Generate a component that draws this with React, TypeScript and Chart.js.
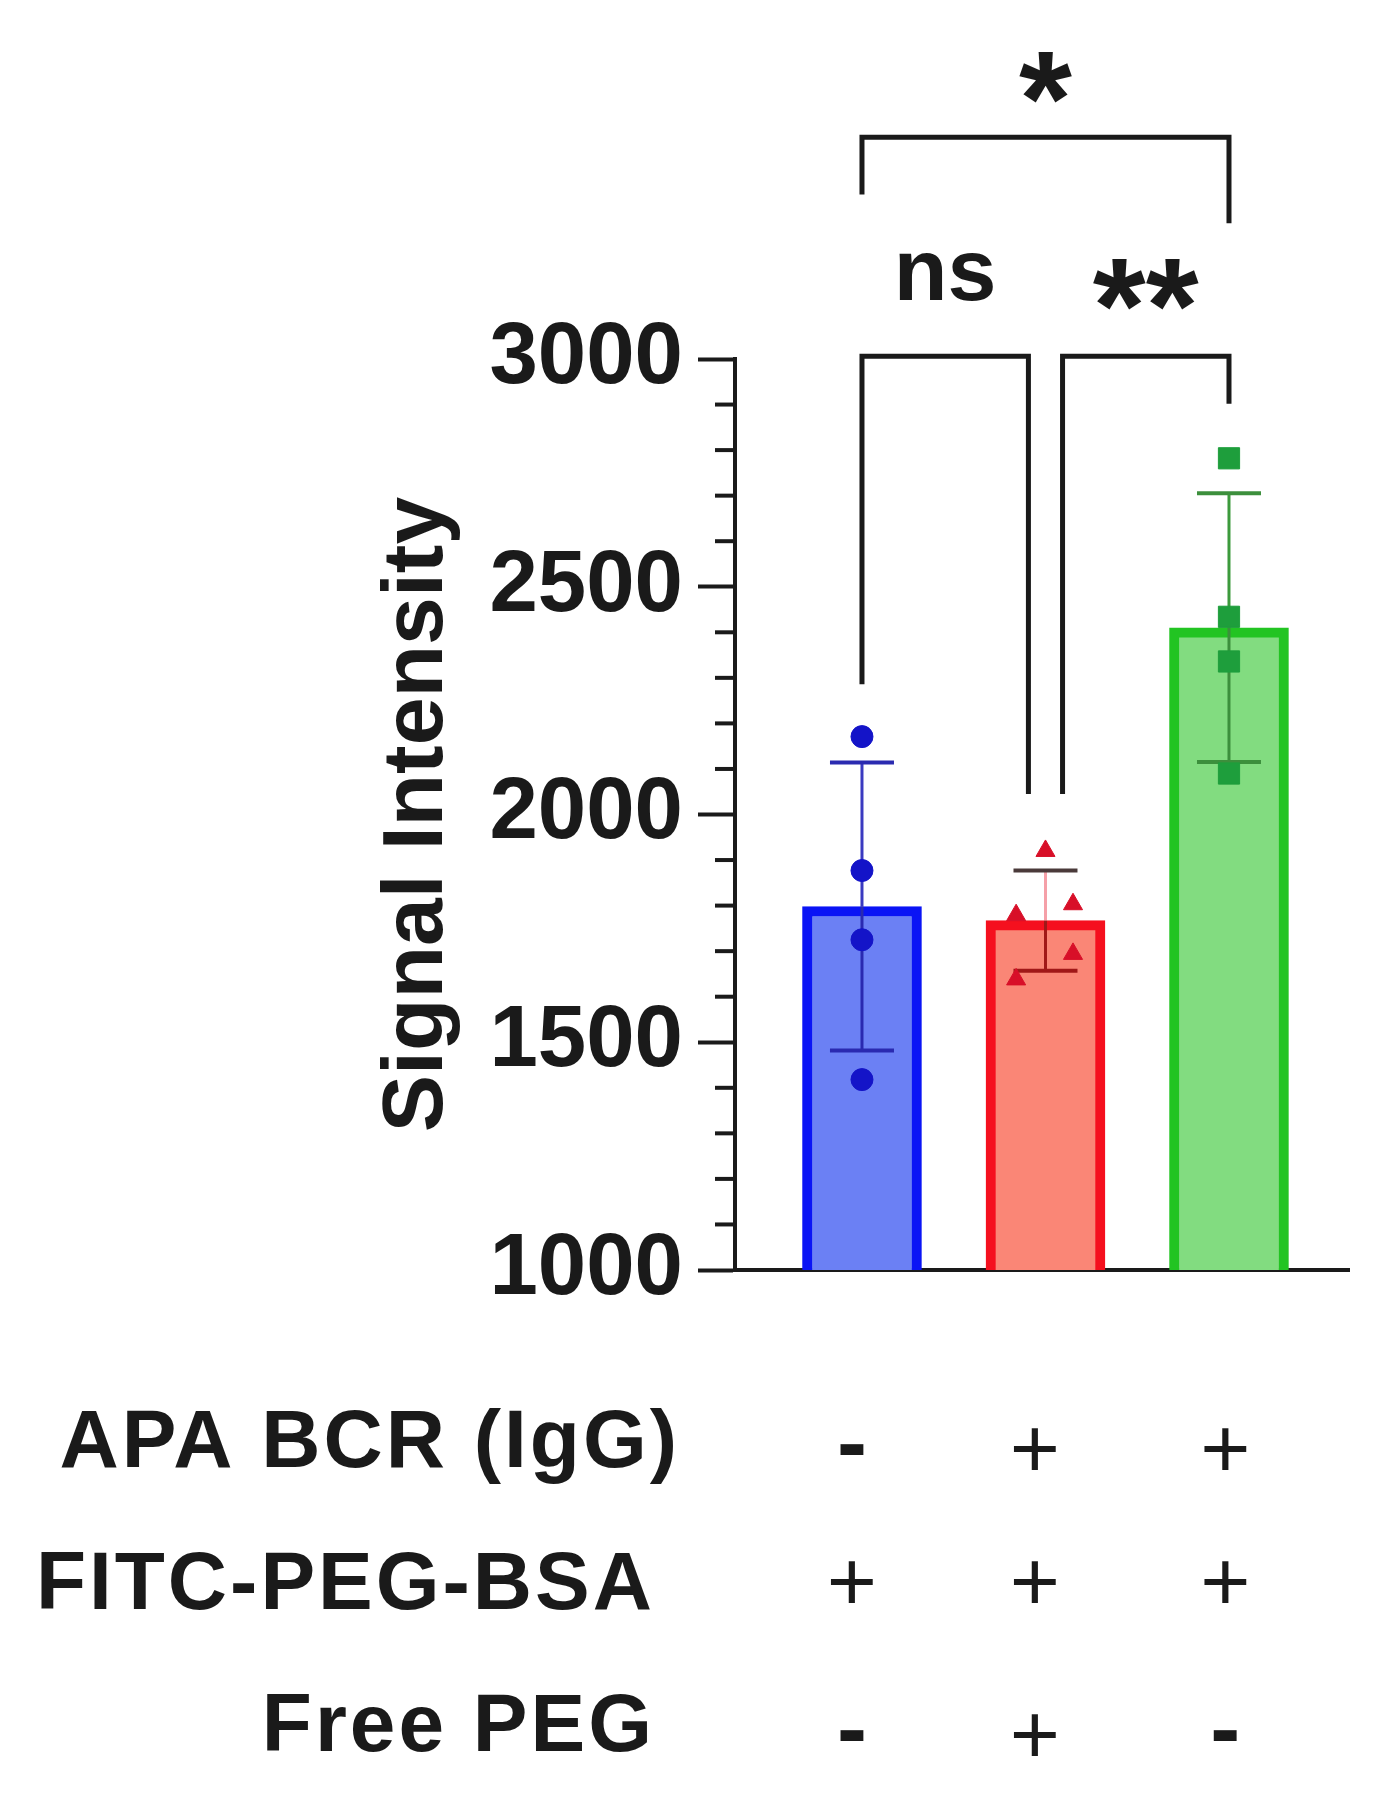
import React, { useEffect, useRef } from 'react';
import { Chart, registerables } from 'chart.js';

Chart.register(...registerables);

// ---------- data ----------
const groups = ['APA-, FITC-PEG-BSA+, Free PEG-', 'APA+, FITC-PEG-BSA+, Free PEG+', 'APA+, FITC-PEG-BSA+, Free PEG-'];
const barMeans = [1798, 1767, 2410];
const barSD = [316, 110, 295];
const bluePoints = [2171, 1877, 1725, 1418];
const redPoints = [1920, 1803, 1694, 1779, 1638];
const redJitter = [0, 0.15, 0.15, -0.16, -0.16];
const greenPoints = [2782, 2434, 2336, 2090];
const yTicks = [1000, 1500, 2000, 2500, 3000];
const yTitle = 'Signal Intensity';
const rowLabels = ['APA BCR (IgG)', 'FITC-PEG-BSA', 'Free PEG'];
const rowSigns = [
  ['-', '+', '+'],
  ['+', '+', '+'],
  ['-', '+', '-'],
];
// significance brackets: group indices, bracket level and leg ends (data units)
const compFrom = [0, 0, 1];
const compTo = [2, 1, 2];
const compLevel = [3487, 3006, 3006];
const compLeftEnd = [3361, 2286, 2045];
const compRightEnd = [3298, 2045, 2902];
const compLabel = ['*', 'ns', '**'];

// ---------- style ----------
const FONT = '"Liberation Sans", Arial, Helvetica, sans-serif';
const INK = '#1a1a1a';
const barFill = ['#6b80f4', '#fa8676', '#82dc80'];
const barEdge = ['#0a14f5', '#f5101e', '#22c422'];
const errTopColor = ['#2a2ab0', '#4a3a3a', '#3c8f3c'];
const errStemColor = ['#3a3ac0', '#f5a0a8', '#3c9a3c'];
const errLowColor = ['#2a2ab0', '#a01818', '#3c8f3c'];
const ptColor = ['#1414c8', '#d80f28', '#1e9e3c'];
const legShift = [[0, 0], [0, -0.093], [0.093, 0]];
const labelGap = [34, 55, 46];
const labelSize = [136, 88, 136];
const rowLabelRight = [680, 655, 655];
const rowBaseline = [1467, 1609, 1751];
const rowSignCenter = [1449, 1582, 1735];
const signShift = [-0.055, -0.058, -0.02];

function baselineForCenter(ctx: CanvasRenderingContext2D, text: string, yc: number) {
  const m = ctx.measureText(text);
  return yc + (m.actualBoundingBoxAscent - m.actualBoundingBoxDescent) / 2;
}

const annotPlugin = {
  id: 'annot',
  afterDatasetDraw(chart: any, args: any) {
    if (args.index !== 0) return;
    const { ctx } = chart;
    const xs = chart.scales.x;
    const ys = chart.scales.y;
    ctx.save();
    barMeans.forEach((m, i) => {
      const x = xs.getPixelForValue(i);
      const yTop = ys.getPixelForValue(m + barSD[i]);
      const yBot = ys.getPixelForValue(m - barSD[i]);
      const yMean = ys.getPixelForValue(m);
      ctx.lineWidth = 3;
      ctx.strokeStyle = errStemColor[i];
      ctx.beginPath();
      ctx.moveTo(x, yTop);
      ctx.lineTo(x, yMean);
      ctx.stroke();
      ctx.strokeStyle = errLowColor[i];
      ctx.beginPath();
      ctx.moveTo(x, yMean);
      ctx.lineTo(x, yBot);
      ctx.stroke();
      ctx.lineWidth = 4;
      ctx.strokeStyle = errTopColor[i];
      ctx.beginPath();
      ctx.moveTo(x - 32, yTop);
      ctx.lineTo(x + 32, yTop);
      ctx.stroke();
      ctx.strokeStyle = errLowColor[i];
      ctx.beginPath();
      ctx.moveTo(x - 32, yBot);
      ctx.lineTo(x + 32, yBot);
      ctx.stroke();
    });
    ctx.restore();
  },
  afterDraw(chart: any) {
    const { ctx } = chart;
    const xs = chart.scales.x;
    const ys = chart.scales.y;
    ctx.save();
    // minor ticks
    ctx.strokeStyle = INK;
    ctx.lineWidth = 4;
    ys.ticks.forEach((t: any) => {
      if (yTicks.includes(t.value)) return;
      const y = ys.getPixelForValue(t.value);
      ctx.beginPath();
      ctx.moveTo(ys.right - 20, y);
      ctx.lineTo(ys.right, y);
      ctx.stroke();
    });
    // brackets
    ctx.lineWidth = 5;
    ctx.lineJoin = 'miter';
    ctx.lineCap = 'butt';
    compLabel.forEach((lab, k) => {
      const x1 = xs.getPixelForValue(compFrom[k] + legShift[k][0]);
      const x2 = xs.getPixelForValue(compTo[k] + legShift[k][1]);
      const yl = ys.getPixelForValue(compLevel[k]);
      ctx.beginPath();
      ctx.moveTo(x1, ys.getPixelForValue(compLeftEnd[k]));
      ctx.lineTo(x1, yl);
      ctx.lineTo(x2, yl);
      ctx.lineTo(x2, ys.getPixelForValue(compRightEnd[k]));
      ctx.stroke();
      ctx.font = `bold ${labelSize[k]}px ${FONT}`;
      ctx.fillStyle = INK;
      ctx.textAlign = 'center';
      const m = ctx.measureText(lab);
      const bottom = yl - labelGap[k];
      ctx.fillText(lab, (x1 + x2) / 2, bottom - m.actualBoundingBoxDescent);
    });
    // condition table
    ctx.fillStyle = INK;
    rowLabels.forEach((lab, r) => {
      ctx.font = `bold 82px ${FONT}`;
      ctx.textAlign = 'right';
      (ctx as any).letterSpacing = '3px';
      ctx.fillText(lab, rowLabelRight[r], rowBaseline[r]);
      (ctx as any).letterSpacing = '0px';
      ctx.textAlign = 'center';
      rowSigns[r].forEach((s, i) => {
        const x = xs.getPixelForValue(i + signShift[i]);
        if (s === '+') {
          ctx.font = `86px ${FONT}`;
        } else {
          ctx.font = `bold 90px ${FONT}`;
        }
        const base = baselineForCenter(ctx, s, rowSignCenter[r]);
        ctx.fillText(s, x, base);
      });
    });
    ctx.restore();
  },
};

export default function App() {
  const ref = useRef<HTMLCanvasElement | null>(null);
  useEffect(() => {
    if (!ref.current) return;
    const chart = new Chart(ref.current, {
      type: 'bar',
      data: {
        datasets: [
          {
            type: 'bar',
            label: 'Mean',
            data: groups.map((_, i) => ({ x: i, y: barMeans[i] })) as any,
            backgroundColor: barFill,
            borderColor: barEdge,
            borderWidth: 10,
            barThickness: 119,
            order: 3,
          } as any,
          {
            type: 'scatter',
            label: groups[0],
            data: bluePoints.map((v) => ({ x: 0, y: v })),
            pointStyle: 'circle',
            radius: 11,
            backgroundColor: ptColor[0],
            borderColor: ptColor[0],
            borderWidth: 1,
            order: 0,
          } as any,
          {
            type: 'scatter',
            label: groups[1],
            data: redPoints.map((v, k) => ({ x: 1 + redJitter[k], y: v })),
            pointStyle: 'triangle',
            radius: 11,
            backgroundColor: ptColor[1],
            borderColor: ptColor[1],
            borderWidth: 1,
            order: 0,
          } as any,
          {
            type: 'scatter',
            label: groups[2],
            data: greenPoints.map((v) => ({ x: 2, y: v })),
            pointStyle: 'rect',
            radius: 15,
            backgroundColor: ptColor[2],
            borderColor: ptColor[2],
            borderWidth: 1,
            order: 0,
          } as any,
        ],
      },
      options: {
        responsive: false,
        animation: false,
        events: [],
        plugins: { legend: { display: false }, tooltip: { enabled: false } },
        layout: { padding: { left: 350, top: 359, right: 38, bottom: 522 } },
        scales: {
          x: {
            type: 'linear',
            min: -0.692,
            max: 2.654,
            offset: false,
            ticks: { display: false },
            grid: { display: false },
            border: { display: true, color: INK, width: 4 },
          },
          y: {
            type: 'linear',
            min: 1000,
            max: 3000,
            ticks: {
              stepSize: 100,
              autoSkip: false,
              padding: 15,
              color: INK,
              font: { family: FONT, size: 87, weight: 'bold' },
              callback: (v: any) => (yTicks.includes(Number(v)) ? String(v) : ''),
            },
            grid: {
              drawOnChartArea: false,
              drawTicks: true,
              tickLength: 37,
              tickWidth: 4,
              tickColor: (c: any) => (yTicks.includes(c.tick?.value) ? INK : 'rgba(0,0,0,0)'),
            },
            border: { display: true, color: INK, width: 4 },
            title: {
              display: true,
              text: yTitle,
              color: INK,
              font: { family: FONT, size: 86, weight: 'bold' },
              padding: { top: 17, bottom: 0 },
            },
            afterFit: (s: any) => {
              s.width = 385;
            },
          },
        },
      } as any,
      plugins: [annotPlugin],
    });
    return () => chart.destroy();
  }, []);
  return (
    <div style={{ position: 'absolute', left: 0, top: 0, width: 1387, height: 1800, background: '#fff' }}>
      <canvas ref={ref} width={1387} height={1800} style={{ display: 'block' }} />
    </div>
  );
}
